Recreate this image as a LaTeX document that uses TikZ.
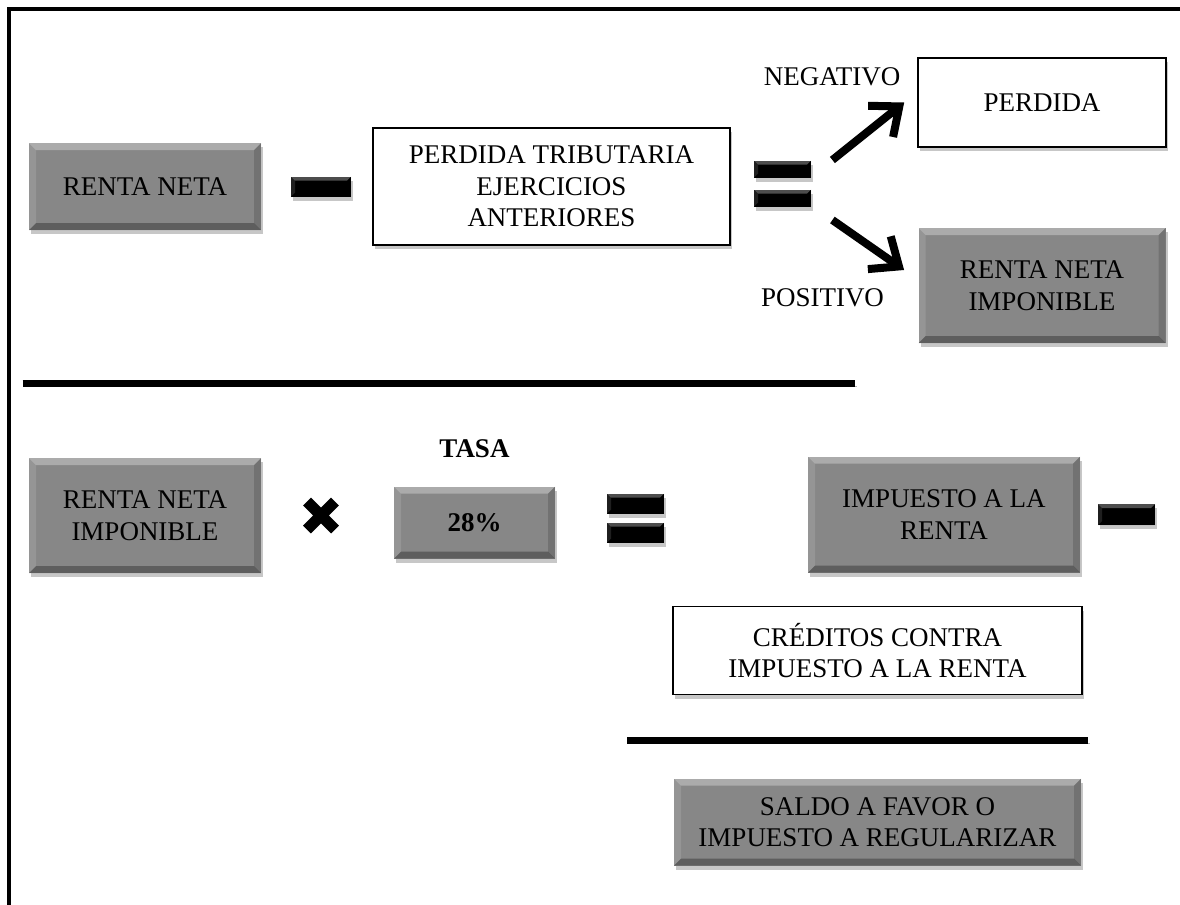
\documentclass[tikz,border=0pt]{standalone}
\usepackage{fontspec}
\setmainfont{Liberation Serif}
\usetikzlibrary{positioning,arrows.meta}
\definecolor{boxgray}{RGB}{135,135,135}

\begin{document}
\begin{tikzpicture}[%
    x=1pt, y=1pt,                               % Coordinates in pt
    >={Straight Barb[length=12pt,width=20pt]},  % Open arrow heads
    node distance=10pt and 10pt,                % Everything is on grid anyway
    ]
% -------------------------------------------------
% Box styles
\tikzset{
  base/.style={on grid, align=center, inner sep=0pt,
    font=\fontsize{13.5pt}{15.8pt}\selectfont},
  bf/.style={font=\fontsize{13.5pt}{15.8pt}\selectfont\bfseries},
  % Bevelled edges like the office buttons
  bevel/.style={path picture={
      \path (path picture bounding box.north west) coordinate (bvnw)
            (path picture bounding box.north east) coordinate (bvne)
            (path picture bounding box.south east) coordinate (bvse)
            (path picture bounding box.south west) coordinate (bvsw);
      \fill[white, opacity=.3] (bvnw) -- (bvne) -- ([shift={(-#1,-#1)}]bvne)
            -- ([shift={(#1,-#1)}]bvnw) -- cycle;
      \fill[black, opacity=.3] (bvsw) -- (bvse) -- ([shift={(-#1,#1)}]bvse)
            -- ([shift={(#1,#1)}]bvsw) -- cycle;
      \fill[white, opacity=.12] (bvnw) -- (bvsw) -- ([shift={(#1,#1)}]bvsw)
            -- ([shift={(#1,-#1)}]bvnw) -- cycle;
      \fill[black, opacity=.15] (bvne) -- (bvse) -- ([shift={(-#1,#1)}]bvse)
            -- ([shift={(-#1,-#1)}]bvne) -- cycle;}},
  dropsh/.style={preaction={fill=black, opacity=.22,
      transform canvas={shift={(1pt,-2pt)}}}},
  gbox/.style={base, fill=boxgray, bevel=3.5pt, dropsh},
  wbox/.style={base, draw, line width=.8pt, fill=white, dropsh},
  bar/.style={base, fill=black, minimum width=28.5pt, minimum height=9pt,
    bevel=2pt, dropsh},
  xmark/.style={base, minimum size=18pt, path picture={
      \draw[line width=5.5pt]
        ([shift={(-7pt,-7pt)}]path picture bounding box.center) --
        ([shift={(7pt,7pt)}]path picture bounding box.center)
        ([shift={(-7pt,7pt)}]path picture bounding box.center) --
        ([shift={(7pt,-7pt)}]path picture bounding box.center);}},
  lbl/.style={base},
  % Connector and rule lines
  arr/.style={->, line width=4pt},
  rule/.style={line width=3.5pt, preaction={draw=black!30,
      transform canvas={shift={(.8pt,-1.5pt)}}}}
}
\useasboundingbox (0,0) rectangle (590,-452.5);
\draw[line width=2.2pt] (590,-4.4) -- (4.4,-4.4) -- (4.4,-452.5);
% -------------------------------------------------
% Upper part: renta neta imponible

\node [gbox, minimum width=116pt, minimum height=43.5pt] (a) at (72.5,-93.25) {RENTA NETA};
\node [bar, minimum width=30pt, minimum height=10pt, right=88pt of a] (b) {};
\node [wbox, minimum width=178.5pt, minimum height=58.5pt, right=115.25pt of b] (c)
  {PERDIDA TRIBUTARIA\\EJERCICIOS\\ANTERIORES};
\node [bar, minimum height=8.5pt, above right=8.75pt and 115.5pt of c] (d) {};
\node [bar, minimum height=8.5pt, below=14.5pt of d] (e) {};
\node [wbox, minimum width=124pt, minimum height=44.5pt, above right=33.25pt and 129.75pt of d] (f) {PERDIDA};
\node [gbox, minimum width=123.5pt, minimum height=57.5pt, below=91.5pt of f] (g) {RENTA NETA\\IMPONIBLE};
\node [lbl, above left=12.75pt and 105pt of f] (neg) {NEGATIVO};
\node [lbl, below left=6.25pt and 109.75pt of g] (pos) {POSITIVO};

\draw[arr] ([shift={(10.5pt,4.5pt)}]d.east) -- ([xshift=-6.5pt]f.west);      %=,PERDIDA
\draw[arr] ([shift={(10.5pt,-11pt)}]e.east) -- ([shift={(-7pt,7.75pt)}]g.west); %=,RENTA NETA IMPONIBLE

\coordinate (r1a) at (11.3,-191.75);
\coordinate (r1b) at (427.5,-191.75);
\draw[rule] (r1a) -- (r1b);

% -------------------------------------------------
% Lower part: impuesto a la renta

\node [gbox, minimum width=116pt, minimum height=57.5pt, below=164.5pt of a] (h) {RENTA NETA\\IMPONIBLE};
\node [xmark, right=88pt of h] (i) {};
\node [gbox, bf, minimum width=80.5pt, minimum height=36pt, below right=3.5pt and 76.75pt of i] (j) {28\%};
\node [lbl, bf, above=37pt of j] (k) {TASA};
\node [bar, minimum height=10pt, above right=9.5pt and 80.5pt of j] (l) {};
\node [bar, minimum height=10pt, below=14.5pt of l] (m) {};
\node [gbox, minimum width=136pt, minimum height=58pt, below right=5.5pt and 154.25pt of l] (n) {IMPUESTO A LA\\RENTA};
\node [bar, minimum height=10.5pt, right=91.25pt of n] (o) {};
\node [wbox, minimum width=204.5pt, minimum height=44pt, below left=68pt and 33.25pt of n] (p)
  {CRÉDITOS CONTRA\\IMPUESTO A LA RENTA};

\coordinate (r2a) at (313.5,-370.25);
\coordinate (r2b) at (544,-370.25);
\draw[rule] (r2a) -- (r2b);

\node [gbox, minimum width=203.5pt, minimum height=43.5pt, below=85.75pt of p] (q)
  {SALDO A FAVOR O\\IMPUESTO A REGULARIZAR};

% -------------------------------------------------
\end{tikzpicture}
\end{document}
